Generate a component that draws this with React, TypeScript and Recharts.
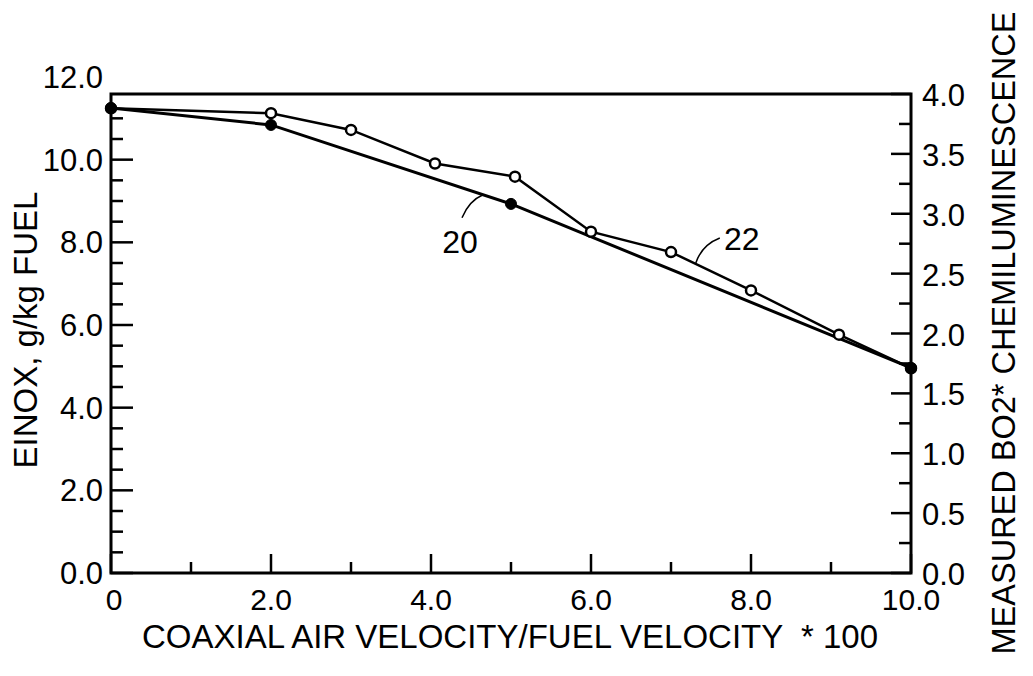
import {
  LineChart,
  Line,
  XAxis,
  YAxis,
  ReferenceArea,
  ReferenceDot,
  Label,
} from "recharts";

const FONT = '"Liberation Sans", Arial, Helvetica, sans-serif';

// curve 20: EINOX (left axis, g/kg fuel)
const ratio20 = [0, 2, 5, 10];
const einox20 = [11.25, 10.84, 8.93, 4.96];

// curve 22: measured BO2* chemiluminescence (right axis)
const ratio22 = [0, 2, 3, 4.05, 5.05, 6.0, 7.0, 8.0, 9.1, 10];
const bo2_22 = [3.88, 3.84, 3.7, 3.42, 3.31, 2.85, 2.68, 2.36, 1.99, 1.71];

const xTicks = [0, 1, 2, 3, 4, 5, 6, 7, 8, 9, 10];
const leftTicks = [
  0, 0.5, 1, 1.5, 2, 2.5, 3, 3.5, 4, 4.5, 5, 5.5, 6, 6.5, 7, 7.5, 8, 8.5, 9,
  9.5, 10, 10.5, 11, 12,
];
const rightTicks = [
  0, 0.25, 0.5, 0.75, 1, 1.25, 1.5, 1.75, 2, 2.25, 2.5, 2.75, 3, 3.25, 3.5,
  3.75, 4,
];

const data20 = ratio20.map((x, i) => ({ x, y: einox20[i] }));
const data22 = ratio22.map((x, i) => ({ x, y: bo2_22[i] }));

const XTick = (props: any) => {
  const { x, y, payload } = props;
  const v = payload.value;
  const major = v % 2 === 0;
  return (
    <g>
      <line x1={x} x2={x} y1={y} y2={y - (major ? 19 : 11)} stroke="#000" strokeWidth={2.5} />
      {major && (
        <text x={v === 0 ? x + 3 : x} y={y + 37} textAnchor="middle" fontSize={30} fontFamily={FONT} fill="#000">
          {v === 0 ? "0" : v.toFixed(1)}
        </text>
      )}
    </g>
  );
};

const LeftTick = (props: any) => {
  const { x, y, payload } = props;
  const v = payload.value;
  const major = v % 2 === 0;
  return (
    <g>
      {v < 12 && (
        <line x1={x} x2={x + (major ? 22 : 12)} y1={y} y2={y} stroke="#000" strokeWidth={2.5} />
      )}
      {major && (
        <text x={x - 8} y={y + 11} textAnchor="end" fontSize={31} fontFamily={FONT} fill="#000">
          {v.toFixed(1)}
        </text>
      )}
    </g>
  );
};

const RightTick = (props: any) => {
  const { x, y, payload } = props;
  const v = payload.value;
  const major = Math.abs(v * 2 - Math.round(v * 2)) < 1e-6;
  return (
    <g>
      <line x1={x - (major ? 20 : 12)} x2={x} y1={y} y2={y} stroke="#000" strokeWidth={2.5} />
      {major && (
        <text x={x + 11} y={y + 12} textAnchor="start" fontSize={31} fontFamily={FONT} fill="#000">
          {v.toFixed(1)}
        </text>
      )}
    </g>
  );
};

const Tag20 = (props: any) => {
  const { cx, cy } = props;
  return (
    <g>
      <path d={`M${cx},${cy} Q${cx - 14},${cy + 6} ${cx - 21},${cy + 23}`} fill="none" stroke="#000" strokeWidth={1.5} />
      <text x={cx - 23} y={cy + 58} textAnchor="middle" fontSize={32} fontFamily={FONT} fill="#000">
        20
      </text>
    </g>
  );
};

const Tag22 = (props: any) => {
  const { cx, cy } = props;
  return (
    <g>
      <path d={`M${cx},${cy} Q${cx + 6},${cy - 18} ${cx + 24},${cy - 25}`} fill="none" stroke="#000" strokeWidth={1.5} />
      <text x={cx + 46} y={cy - 13} textAnchor="middle" fontSize={32} fontFamily={FONT} fill="#000">
        22
      </text>
    </g>
  );
};

export default function App() {
  return (
    <div style={{ position: "absolute", left: 0, top: 0, width: 1033, height: 676, background: "#fff" }}>
      <LineChart width={1033} height={676} margin={{ top: 77, right: 0, bottom: 0, left: 0 }}>
        <XAxis
          dataKey="x"
          type="number"
          domain={[0, 10]}
          ticks={xTicks}
          interval={0}
          axisLine={false}
          tickLine={false}
          tickSize={0}
          tickMargin={0}
          tick={<XTick />}
          height={103}
          allowDuplicatedCategory={false}
        >
          <Label
            content={(p: any) => (
              <text
                x={p.viewBox.x + 399}
                y={p.viewBox.y + 75}
                textAnchor="middle"
                fontSize={33}
                fontFamily={FONT}
                fill="#000"
                style={{ whiteSpace: "pre" }}
              >
                {"COAXIAL AIR VELOCITY/FUEL VELOCITY  * 100"}
              </text>
            )}
          />
        </XAxis>
        <YAxis
          yAxisId="left"
          orientation="left"
          type="number"
          domain={[0, 12]}
          ticks={leftTicks}
          interval={0}
          axisLine={false}
          tickLine={false}
          tickSize={0}
          tickMargin={0}
          tick={<LeftTick />}
          width={111}
        >
          <Label
            content={(p: any) => {
              const tx = p.viewBox.x + 37;
              const ty = p.viewBox.y + 253;
              return (
                <text
                  x={tx}
                  y={ty}
                  transform={`rotate(-90, ${tx}, ${ty})`}
                  textAnchor="middle"
                  fontSize={33}
                  fontFamily={FONT}
                  fill="#000"
                >
                  EINOX, g/kg FUEL
                </text>
              );
            }}
          />
        </YAxis>
        <YAxis
          yAxisId="right"
          orientation="right"
          type="number"
          domain={[0, 4.142]}
          ticks={rightTicks}
          interval={0}
          axisLine={false}
          tickLine={false}
          tickSize={0}
          tickMargin={0}
          tick={<RightTick />}
          width={122}
        >
          <Label
            content={(p: any) => {
              const tx = p.viewBox.x + 104;
              const ty = p.viewBox.y + 256;
              return (
                <text
                  x={tx}
                  y={ty}
                  transform={`rotate(-90, ${tx}, ${ty})`}
                  textAnchor="middle"
                  fontSize={32.5}
                  fontFamily={FONT}
                  fill="#000"
                >
                  MEASURED BO2* CHEMILUMINESCENCE
                </text>
              );
            }}
          />
        </YAxis>

        <ReferenceArea
          yAxisId="right"
          x1={0}
          x2={10}
          y1={0}
          y2={4}
          fill="none"
          fillOpacity={0}
          stroke="#000"
          strokeWidth={3}
        />

        <Line
          yAxisId="right"
          data={data22}
          dataKey="y"
          type="linear"
          stroke="#000"
          strokeWidth={2.5}
          dot={{ r: 5, fill: "#fff", stroke: "#000", strokeWidth: 2.5 }}
          activeDot={false}
          isAnimationActive={false}
        />
        <Line
          yAxisId="left"
          data={data20}
          dataKey="y"
          type="linear"
          stroke="#000"
          strokeWidth={3}
          dot={{ r: 5.5, fill: "#000", stroke: "#000", strokeWidth: 1 }}
          activeDot={false}
          isAnimationActive={false}
        />

        <ReferenceDot yAxisId="left" x={4.65} y={9.15} r={1} shape={<Tag20 />} />
        <ReferenceDot yAxisId="left" x={7.31} y={7.5} r={1} shape={<Tag22 />} />
      </LineChart>
    </div>
  );
}
